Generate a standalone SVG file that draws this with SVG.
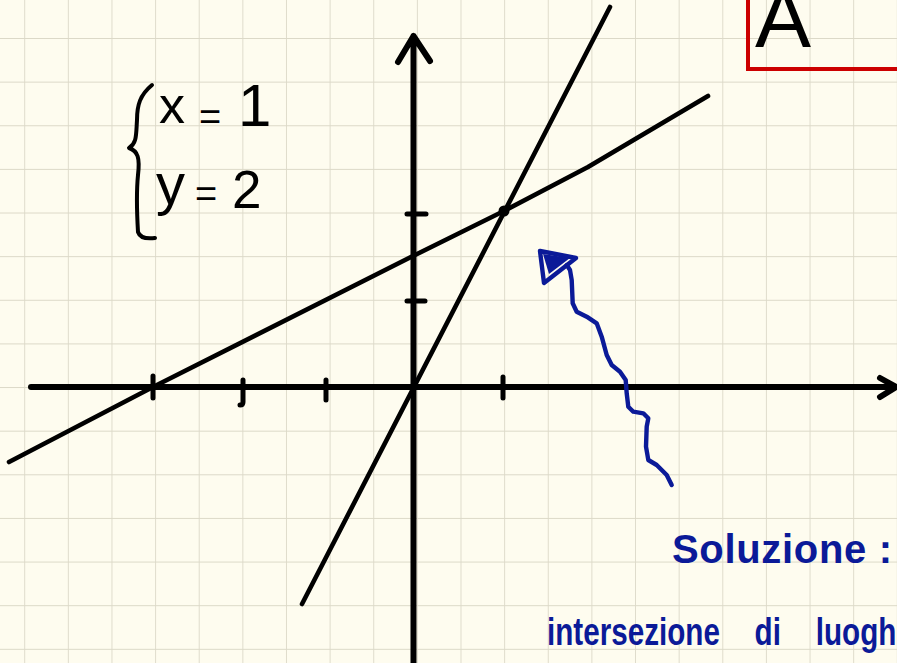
<svg xmlns="http://www.w3.org/2000/svg" width="897" height="663" viewBox="0 0 897 663">
<style>
.ink{fill:none;stroke:#000;stroke-linecap:round;stroke-linejoin:round}
.axis{stroke-width:6}
.line{stroke-width:4.6}
.hand{font-family:"Liberation Sans","DejaVu Sans",sans-serif;fill:#000}
.blue{font-family:"Liberation Sans","DejaVu Sans",sans-serif;font-weight:bold;fill:#0b1a98}
.bstroke{fill:none;stroke:#0b1a98;stroke-width:4.4;stroke-linecap:round;stroke-linejoin:round}
</style>
<defs>
<pattern id="grid" patternUnits="userSpaceOnUse" x="24.2" y="38" width="43.63" height="43.63">
<path d="M0,0 V43.63 M0,0 H43.63" fill="none" stroke="#dcd9c8" stroke-width="1.8"/>
</pattern>
</defs>
<rect width="897" height="663" fill="#fefcef"/>
<rect width="897" height="663" fill="url(#grid)"/>

<g id="label-box">
<path d="M748,0 V69 H897" fill="none" stroke="#cc0000" stroke-width="4"/>
<text class="hand" x="755" y="47" font-size="84">A</text>
</g>

<g id="system">
<path class="ink" stroke-width="4" d="M152,85 C140,95 137,105 137,120 C136,135 137,143 129,148 C138,151 140,158 138,175 C136,195 137,215 138,232 C140,238 147,239 155,238"/>
<text class="hand"><tspan x="159" y="123" font-size="52">x</tspan> <tspan x="199" y="130" font-size="38">=</tspan> <tspan x="238" y="126" font-size="60">1</tspan></text>
<text class="hand"><tspan x="156" y="204" font-size="58">y</tspan> <tspan x="195" y="207" font-size="38">=</tspan> <tspan x="232" y="208" font-size="53">2</tspan></text>
</g>

<g id="axes">
<path class="ink axis" d="M31,387 H895 M880,378 L896,387 L880,397"/>
<path class="ink axis" d="M413.5,663 V36 M398,62 L413.5,36 L430,61"/>
<path class="ink" stroke-width="5" d="M153,376 V398 M243,380 V402 Q243,405 240,405 M326,380 V400 M503,377 V398 M407,214 H426 M407,301 H425"/>
</g>

<g id="lines">
<path class="ink line" d="M302,604 L610,7"/>
<path class="ink line" d="M9,462 L153,387 L413,256 L504,211 L588,167 L708,96"/>
<circle cx="504" cy="211" r="5.5" fill="#000"/>
</g>

<g id="arrow">
<polyline class="bstroke" points="671.7,485 666.7,475 656.7,465 648.3,460 646,446.7 646.7,426.7 648.3,418.3 643.3,413.3 633.3,411.7 628.3,406.7 626.7,393.3 625.7,380 620,371.7 611.7,365 606.7,355 601.7,336.7 596.7,323.3 586.7,316.7 576.7,311.7 572.7,303.3 571.7,280 570,270 566.7,265"/>
<polygon points="540,251 576,258 544,283" fill="none" stroke="#0b1a98" stroke-width="4.4" stroke-linejoin="round"/>
<polygon points="543,254 570,258 549,274" fill="#0b1a98"/>
</g>

<g id="caption">
<text class="blue" x="672" y="563" font-size="40" textLength="220" lengthAdjust="spacing">Soluzione :</text>
<text class="blue" font-size="38" word-spacing="34" transform="translate(547,645) scale(0.78,1)" x="0" y="0">intersezione di luoghi</text>
</g>
</svg>
